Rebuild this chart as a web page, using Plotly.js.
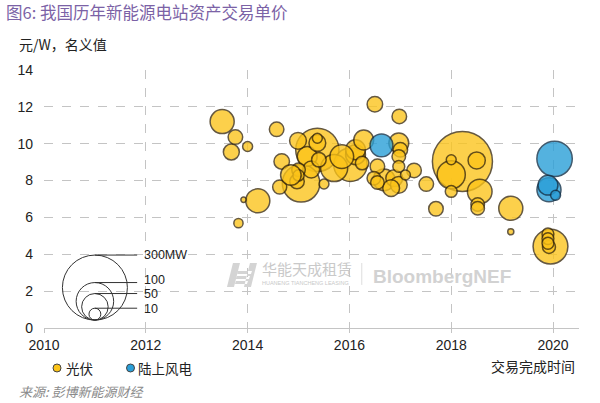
<!DOCTYPE html>
<html>
<head>
<meta charset="utf-8">
<script src="https://cdn.plot.ly/plotly-3.0.1.min.js"></script>
<style>html,body{margin:0;padding:0;background:#fff;}#chart{width:600px;height:403px;}</style>
</head>
<body>
<div id="chart"></div>
<script>
// ---- data ----
const solarYear  = [2018.22, 2015.37, 2015.05, 2016.02, 2019.95, 2018.00, 2015.70, 2018.56, 2013.50, 2014.20, 2019.17,
                    2016.68, 2015.17, 2016.12, 2016.12, 2016.97, 2016.28, 2015.25, 2014.99, 2015.37, 2018.50, 2016.88,
                    2016.97, 2016.82, 2013.68, 2014.67, 2016.50, 2016.98, 2014.57, 2013.76, 2015.40, 2014.97, 2016.55,
                    2017.00, 2017.27, 2017.51, 2017.70, 2014.63, 2015.00, 2016.25, 2016.97, 2016.48, 2016.55, 2018.52,
                    2018.52, 2019.92, 2018.00, 2016.97, 2015.00, 2019.90, 2019.90, 2019.90, 2014.00, 2015.37, 2015.50,
                    2017.10, 2018.00, 2013.82, 2019.17, 2013.92, 2015.85, 2014.85];
const solarPrice = [9.04, 9.67, 7.85, 8.86, 4.42, 8.32, 8.68, 7.41, 11.20, 6.90, 6.50,
                    8.04, 9.31, 9.40, 9.67, 10.04, 10.20, 8.60, 10.16, 10.04, 9.09, 8.13,
                    7.77, 7.59, 9.55, 9.04, 12.14, 11.48, 10.78, 10.36, 9.13, 7.95, 8.77,
                    9.67, 8.55, 7.81, 6.47, 7.65, 8.59, 8.95, 9.31, 8.13, 7.90, 6.70,
                    6.50, 4.40, 7.41, 8.77, 8.28, 5.10, 4.85, 4.60, 9.85, 10.30, 7.81,
                    8.30, 9.13, 5.69, 5.22, 6.96, 9.30, 8.30];
const solarMW    = [256, 133, 100, 79, 86, 56, 52, 43, 41, 41, 41,
                    34, 28, 28, 28, 28, 28, 20, 20, 20, 21, 20,
                    20, 20, 18, 17, 17, 15, 15, 15, 15, 15, 15,
                    15, 15, 15, 15, 14, 13, 13, 13, 13, 13, 13,
                    13, 12, 10, 10, 9, 10, 10, 10, 7, 7, 7,
                    7, 7, 6, 2.6, 2, 40, 30];

const windYear   = [2020.03, 2019.92, 2016.63, 2019.90, 2020.05];
const windPrice  = [9.18, 7.50, 9.91, 7.75, 7.20];
const windMW     = [89, 41, 37, 28, 7];

const sizeKeyMW     = [300, 100, 50, 10];
const sizeKeyLabels = ['300MW', '100', '50', '10'];

const xTickVals = [2010, 2012, 2014, 2016, 2018, 2020];
const yTickVals = [0, 2, 4, 6, 8, 10, 12, 14];

const titleText   = '图6: 我国历年新能源电站资产交易单价';
const yUnitText   = '元/W，名义值';
const xTitleText  = '交易完成时间';
const sourceText  = '来源: 彭博新能源财经';
const seriesNames = ['光伏', '陆上风电'];

// ---- styling ----
const M = {l: 44, r: 21, t: 70, b: 75};
const W = 600, H = 403;
const plotH = H - M.t - M.b;
const yMax = 14;
const pxPerUnit = plotH / yMax;
const SIZEREF = 0.142;            // marker size in area mode
const diam = s => Math.sqrt(2 * s / SIZEREF);   // rendered marker diameter in px
const FONT = 'Liberation Sans, Arial, Noto Sans CJK SC, sans-serif';
const CJK = 'Noto Sans CJK SC, Liberation Sans, sans-serif';
const solarColor = '#FCC419';
const windColor = '#2A9FD8';
const edge = '#3a2a0c';

const traces = [
  {type: 'scatter', mode: 'markers', name: seriesNames[0], x: solarYear, y: solarPrice,
   marker: {size: solarMW, sizemode: 'area', sizeref: SIZEREF, color: solarColor, opacity: 0.78,
            line: {color: edge, width: 1.5}}, showlegend: false, hoverinfo: 'skip'},
  {type: 'scatter', mode: 'markers', name: seriesNames[1], x: windYear, y: windPrice,
   marker: {size: windMW, sizemode: 'area', sizeref: SIZEREF, color: windColor, opacity: 0.8,
            line: {color: '#12324a', width: 1.5}}, showlegend: false, hoverinfo: 'skip'}
];

// size key (circles sharing a bottom point)
const keyX = 2011.0, keyBottom = 0.43, keyLineEnd = 2011.83, keyLabelX = 2011.95;
const keyLabelShift = [0, 3, 0, -1];
const shapes = [];
const annotations = [];
sizeKeyMW.forEach((s, i) => {
  const d = diam(s);
  shapes.push({type: 'circle', xref: 'x', yref: 'y', xsizemode: 'pixel', ysizemode: 'pixel',
    xanchor: keyX, yanchor: keyBottom, x0: -d / 2, x1: d / 2, y0: 0, y1: d,
    line: {color: '#333', width: 1}, fillcolor: 'rgba(0,0,0,0)'});
  shapes.push({type: 'line', xref: 'x', yref: 'y', ysizemode: 'pixel', yanchor: keyBottom,
    x0: keyX, x1: keyLineEnd, y0: d, y1: d, line: {color: '#333', width: 1}});
  annotations.push({xref: 'x', yref: 'y', x: keyLabelX, y: keyBottom + d / pxPerUnit,
    yshift: keyLabelShift[i], borderpad: 0,
    text: sizeKeyLabels[i], showarrow: false, xanchor: 'left', yanchor: 'middle',
    font: {family: FONT, size: 12.5, color: '#222'}});
});

// custom legend
const legY = -0.155;
[[0.0243, 0.0374, solarColor, seriesNames[0]], [0.1617, 0.172, windColor, seriesNames[1]]].forEach(l => {
  shapes.push({type: 'circle', xref: 'paper', yref: 'paper', xsizemode: 'pixel', ysizemode: 'pixel',
    xanchor: l[0], yanchor: legY, x0: -4, x1: 4, y0: -4, y1: 4,
    fillcolor: l[2], line: {color: '#444', width: 1}});
  annotations.push({xref: 'paper', yref: 'paper', x: l[1], y: legY, text: l[3], showarrow: false,
    xanchor: 'left', yanchor: 'middle', font: {family: CJK, size: 13.5, color: '#222'}});
});

// watermark
shapes.push({type: 'path', xref: 'paper', yref: 'paper', xsizemode: 'pixel', ysizemode: 'pixel',
  xanchor: 0.342, yanchor: 0.159,
  path: 'M0,0 L7,0 L13,24 L6,24 Z M17,0 L24,0 L30,24 L23,24 Z M9,8 L22,8 L23,11 L10,11 Z M10,13 L24,13 L25,16 L11,16 Z M8,3 L20,3 L21,6 L9,6 Z',
  fillcolor: '#d4d4d4', line: {width: 0}});
shapes.push({type: 'line', xref: 'paper', yref: 'paper', x0: 0.594, x1: 0.594, y0: 0.167, y1: 0.252,
  line: {color: '#dddddd', width: 1}});
annotations.push(
  {xref: 'paper', yref: 'paper', x: 0.4037, y: 0.2287, text: '华能天成租赁', showarrow: false,
   xanchor: 'left', yanchor: 'middle', font: {family: CJK, size: 15, color: '#c9c9c9'}},
  {xref: 'paper', yref: 'paper', x: 0.4037, y: 0.176, text: 'HUANENG TIANCHENG LEASING', showarrow: false,
   xanchor: 'left', yanchor: 'middle', font: {family: FONT, size: 5.5, color: '#c9c9c9'}},
  {xref: 'paper', yref: 'paper', x: 0.611, y: 0.198, text: '<b>BloombergNEF</b>', showarrow: false,
   xanchor: 'left', yanchor: 'middle', font: {family: FONT, size: 19, color: '#d2d2d2'}},
  {xref: 'paper', yref: 'paper', x: -0.0505, y: 1.101, text: yUnitText, showarrow: false,
   xanchor: 'left', yanchor: 'middle', font: {family: CJK, size: 14, color: '#222'}},
  {xref: 'paper', yref: 'paper', x: 0.9963, y: -0.147, text: xTitleText, showarrow: false,
   xanchor: 'right', yanchor: 'middle', font: {family: CJK, size: 14, color: '#222'}},
  {xref: 'paper', yref: 'paper', x: -0.049, y: -0.248, text: '<i>' + sourceText + '</i>', showarrow: false,
   borderpad: 0, xanchor: 'left', yanchor: 'middle', font: {family: CJK, size: 13, color: '#8a8a8a'}}
);

const layout = {
  width: W, height: H,
  margin: M,
  paper_bgcolor: '#fff', plot_bgcolor: '#fff',
  title: {text: titleText, xref: 'container', yref: 'container', x: 6 / W, xanchor: 'left',
          y: 1 - 13 / H, yanchor: 'middle', font: {family: CJK, size: 16.5, color: '#7B62A6'}},
  xaxis: {range: [2010, 2020.51], tickvals: xTickVals, showgrid: true, gridcolor: '#c4c4c4',
          griddash: 'dash', gridwidth: 1, zeroline: false, showline: true, linecolor: '#c4c4c4',
          linewidth: 1, ticks: 'outside', ticklen: 4, tickcolor: '#c4c4c4',
          tickfont: {family: FONT, size: 14, color: '#222'}, fixedrange: true},
  yaxis: {range: [0, yMax], tickvals: yTickVals, showgrid: true, gridcolor: '#c4c4c4',
          griddash: 'dash', gridwidth: 1, zeroline: false, showline: false, ticks: '',
          ticklabelstandoff: 10,
          tickfont: {family: FONT, size: 14, color: '#222'}, fixedrange: true},
  shapes: shapes,
  annotations: annotations,
  showlegend: false
};

Plotly.newPlot('chart', traces, layout, {staticPlot: true, displayModeBar: false});
</script>
</body>
</html>
